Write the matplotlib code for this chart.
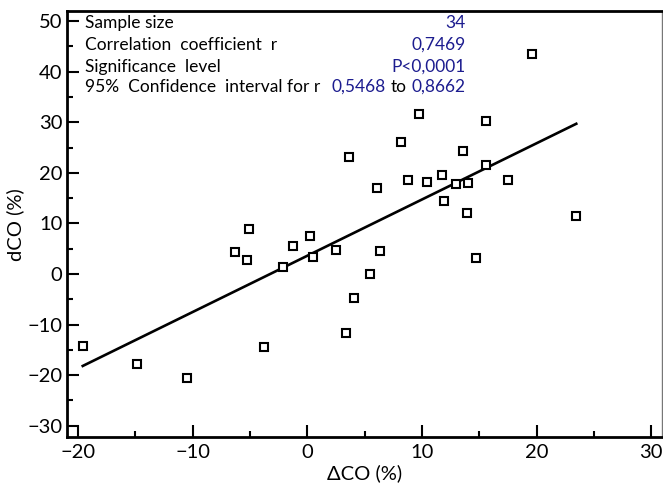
import numpy as np
import matplotlib.pyplot as plt
from matplotlib.ticker import MultipleLocator

plt.rcParams['font.family'] = ['Lato', 'DejaVu Sans']

# delta CO (%) and dCO (%) for the 34 cases
dco_x = np.array([-19.6, -14.9, -10.5, -6.3, -5.1, -5.25, -3.8, 9.7, 8.2, 3.65,
                  8.8, 10.45, 11.75, 11.95, 6.05, 0.25, -1.25, 0.5, -2.15, 2.5,
                  6.3, 5.5, 4.1, 3.35, 19.6, 15.55, 13.6, 15.55, 12.95, 14.0,
                  17.5, 13.9, 23.45, 14.7])
dco_y = np.array([-14.2, -17.9, -20.6, 4.4, 8.9, 2.7, -14.4, 31.7, 26.0, 23.1,
                  18.6, 18.1, 19.5, 14.4, 16.9, 7.5, 5.6, 3.3, 1.4, 4.75,
                  4.55, -0.1, -4.75, -11.7, 43.5, 30.2, 24.4, 21.6, 17.8, 17.9,
                  18.6, 12.1, 11.5, 3.2])

stat_names = ['Sample size', 'Correlation  coefficient  r', 'Significance  level',
              '95%  Confidence  interval for r']
stat_values = ['34', '0,7469', 'P<0,0001']
ci_low = '0,5468'
ci_high = '0,8662'

fig = plt.figure(figsize=(6.63, 4.93), dpi=100)
ax = fig.add_axes([0.1006, 0.113, 0.8974, 0.8647])

ax.plot(dco_x, dco_y, 's', ms=6.2, mfc='white', mec='black', mew=1.5, zorder=3)

# regression line over the data range
k, m = np.polyfit(dco_x, dco_y, 1)
xx = np.array([dco_x.min(), dco_x.max()])
ax.plot(xx, k*xx + m, color='black', lw=1.9, zorder=2)

ax.set_xlim(-21.0, 30.9)
ax.set_ylim(-32.3, 52.0)
ax.xaxis.set_major_locator(MultipleLocator(10))
ax.xaxis.set_minor_locator(MultipleLocator(5))
ax.yaxis.set_major_locator(MultipleLocator(10))
ax.yaxis.set_minor_locator(MultipleLocator(5))
ax.tick_params(which='both', direction='in', width=1.5, top=False, right=False,
               labelsize=14.5)
ax.tick_params(which='major', length=8.6)
ax.tick_params(which='minor', length=4.3)
ax.tick_params(axis='x', pad=5)
ax.tick_params(axis='y', pad=3)

for s in ['left', 'bottom', 'top']:
    ax.spines[s].set_linewidth(2)
ax.spines['right'].set_linewidth(1)
ax.spines['right'].set_color('#777777')

ax.set_xlabel('ΔCO (%)', fontsize=14.5, labelpad=2)
ax.set_ylabel('dCO (%)', fontsize=14.5, labelpad=2)

blue = '#1c1c8f'
ys = [48.7, 44.3, 40.0, 36.0]
for name, yy in zip(stat_names, ys):
    ax.text(-19.4, yy, name, fontsize=12.5, va='baseline', ha='left')
for val, yy in zip(stat_values, ys):
    ax.text(13.8, yy, val, fontsize=12.5, va='baseline', ha='right', color=blue)
ax.text(2.1, ys[3], ci_low, fontsize=12.5, va='baseline', ha='left', color=blue)
ax.text(7.3, ys[3], 'to', fontsize=12.5, va='baseline', ha='left')
ax.text(13.8, ys[3], ci_high, fontsize=12.5, va='baseline', ha='right', color=blue)

fig.savefig('out.png', dpi=100)
